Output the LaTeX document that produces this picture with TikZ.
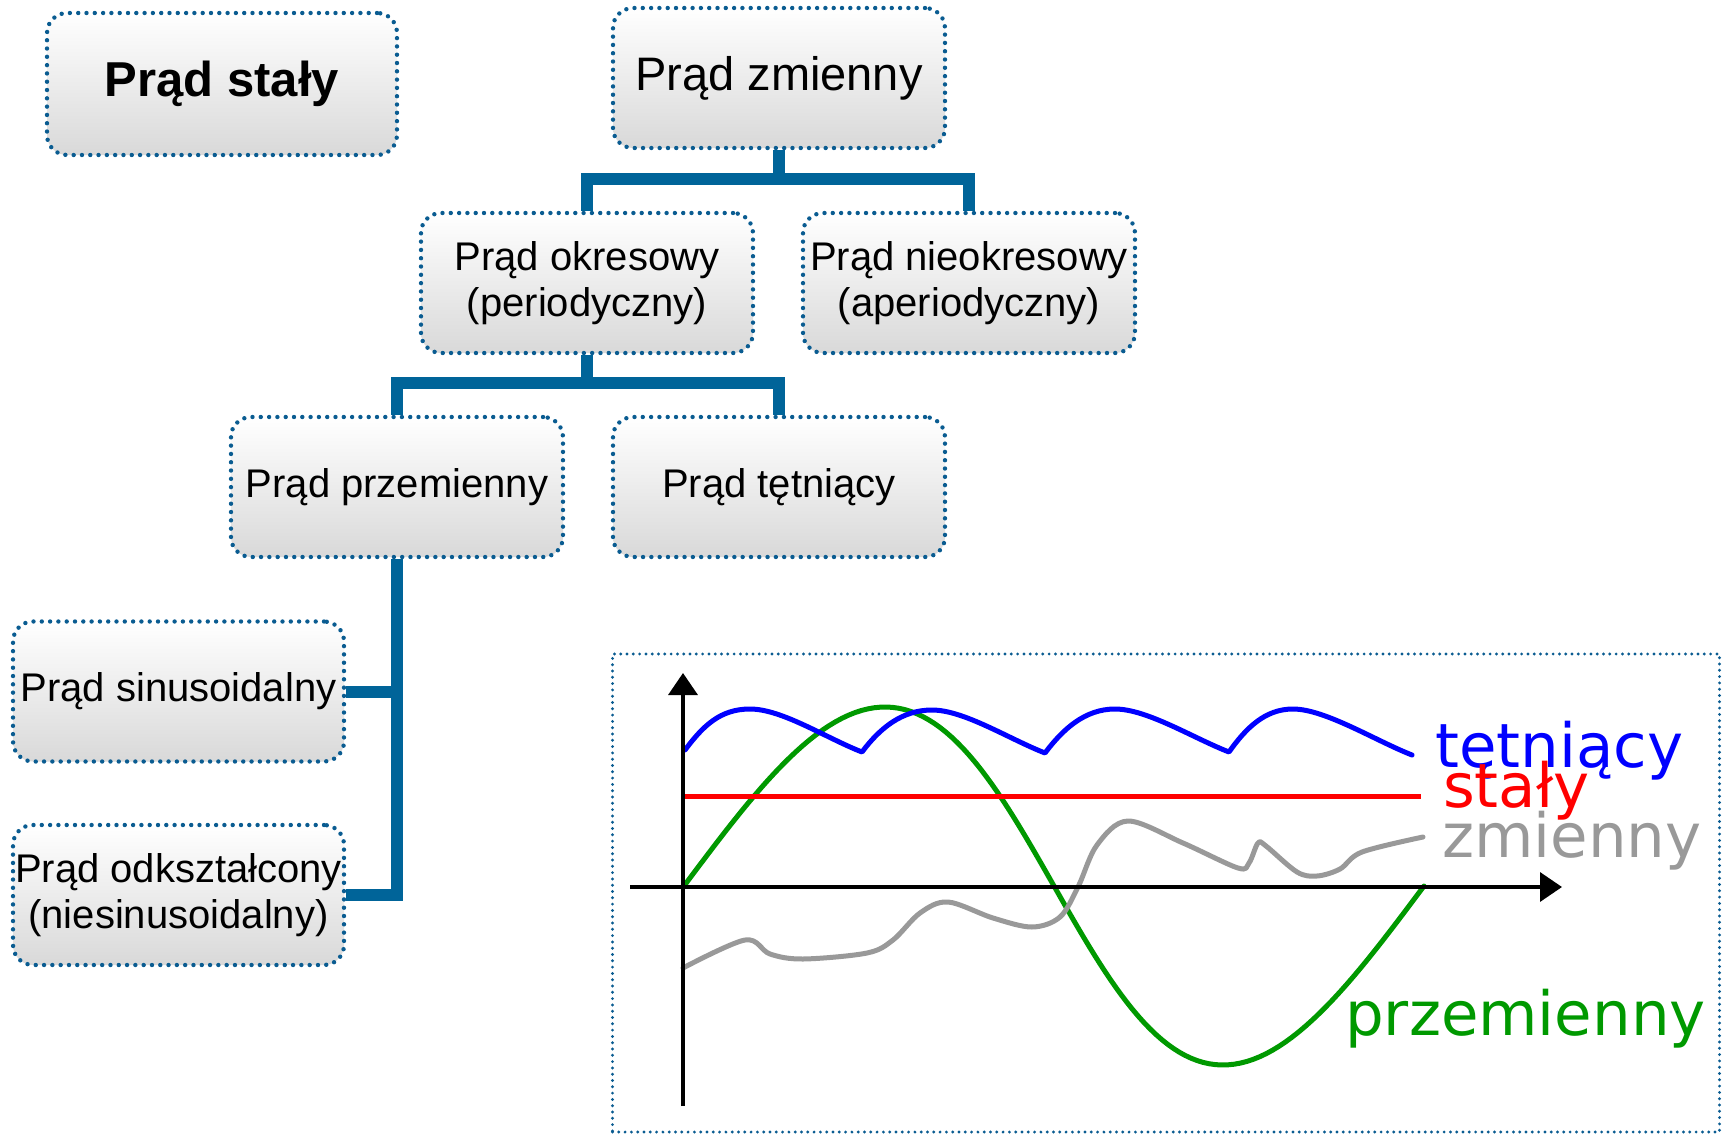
\documentclass[tikz,border=0pt]{standalone}
\usepackage{fontspec}
\setmainfont{Liberation Sans}
\newfontfamily\dejavu{DejaVu Sans}
\usetikzlibrary{arrows.meta}
\definecolor{conblue}{RGB}{0,100,153}
\definecolor{dotblue}{RGB}{10,92,145}
\definecolor{curvegreen}{RGB}{0,153,0}
\definecolor{curvegray}{RGB}{153,153,153}
\definecolor{curveblue}{RGB}{0,0,255}
\definecolor{curvered}{RGB}{255,0,0}
\begin{document}
\begin{tikzpicture}[x=1pt,y=-1pt,
  box/.style={draw=dotblue, line width=4.4pt, dash pattern=on 0pt off 8.3pt, line cap=round,
    rounded corners=20pt, top color=white, bottom color=gray!30,
    minimum width=332pt, minimum height=140pt, inner sep=0pt, align=center,
    font=\fontsize{40}{46}\selectfont},
  conn/.style={draw=conblue, line width=12pt, line join=miter},
  curve/.style={line width=5pt, line join=round, line cap=round},
  axis/.style={line width=3.5pt, -{Triangle[length=22pt,width=29pt]}},
  lbl/.style={anchor=base west, inner sep=0pt, font=\dejavu\fontsize{61}{70}\selectfont}]
\useasboundingbox (0,0) rectangle (1725,1135);

% tree boxes
\node[box, minimum width=350pt, minimum height=142pt, font=\bfseries\fontsize{49}{56}\selectfont] (st) at (222,84) {Prąd stały};
\node[box, font=\fontsize{47}{54}\selectfont] (zm) at (779,78) {Prąd zmienny};
\node[box] (okr) at (587,283) {Prąd okresowy\\(periodyczny)};
\node[box] (nok) at (969,283) {Prąd nieokresowy\\(aperiodyczny)};
\node[box] (prz) at (397,487) {Prąd przemienny};
\node[box] (tet) at (779,487) {Prąd tętniący};
\node[box, minimum width=331pt] (sin) at (178.5,691.5) {Prąd sinusoidalny};
\node[box, minimum width=331pt] (odk) at (178.5,895) {Prąd odkształcony\\(niesinusoidalny)};

% connectors
\draw[conn] (zm.south) -- ++(0,33);
\draw[conn] (okr.north) -- ++(0,-32) -| (nok.north);
\draw[conn] (okr.south) -- ++(0,33);
\draw[conn] (prz.north) -- ++(0,-32) -| (tet.north);
\draw[conn] (prz.south) |- (odk.east);
\draw[conn] (sin.east) -- ++(53,0);

% chart frame
\node[draw=dotblue, line width=3.2pt, dash pattern=on 0pt off 6.3pt, line cap=round,
  minimum width=1107pt, minimum height=478pt, inner sep=0pt] (chart) at (1166,893) {};

% curves
\draw[curve, curvegreen] plot[domain=0:360, samples=120] ({684+\x/360*740+16*sin(\x)}, {886-179*sin(\x)});
\draw[curve, curvegray] plot[smooth, tension=0.55] coordinates {
  (683,968) (745,940) (770,954) (803,959) (867,953) (893,940) (920,913) (948,902)
  (993,918) (1032,927) (1060,917) (1078,887) (1097,845) (1128,821) (1183,843) (1238,868)
  (1249,863) (1258,843) (1266,846) (1297,872) (1317,876) (1340,869) (1362,852) (1423,837)};
\draw[curve, curveblue] (685,750)
  .. controls +(18,-24) and +(-30,0) .. (750,709)
  .. controls +(32,0) and +(-36,-14) .. (862,752)
  .. controls +(18,-24) and +(-30,0) .. (932,710)
  .. controls +(32,0) and +(-36,-14) .. (1045,753)
  .. controls +(18,-24) and +(-30,0) .. (1115,709)
  .. controls +(32,0) and +(-36,-14) .. (1229,752)
  .. controls +(17,-24) and +(-28,0) .. (1293,709)
  .. controls +(32,0) and +(-36,-14) .. (1412,755);
\draw[line width=5pt, curvered] (682,796) -- (1421,796);

% axes
\coordinate (ybot) at (683,1106);
\coordinate (ytop) at (683,673);
\coordinate (xleft) at (630,887);
\coordinate (xright) at (1562,887);
\draw[axis] (ybot) -- (ytop);
\draw[axis] (xleft) -- (xright);

% labels
\node[lbl, text=curveblue] (lt) at (1435,767) {tętniący};
\node[lbl, text=curvered] (ls) at (1443,807) {stały};
\node[lbl, text=curvegray] (lz) at (1442,857) {zmienny};
\node[lbl, text=curvegreen] (lp) at (1345,1035) {przemienny};
\end{tikzpicture}
\end{document}
